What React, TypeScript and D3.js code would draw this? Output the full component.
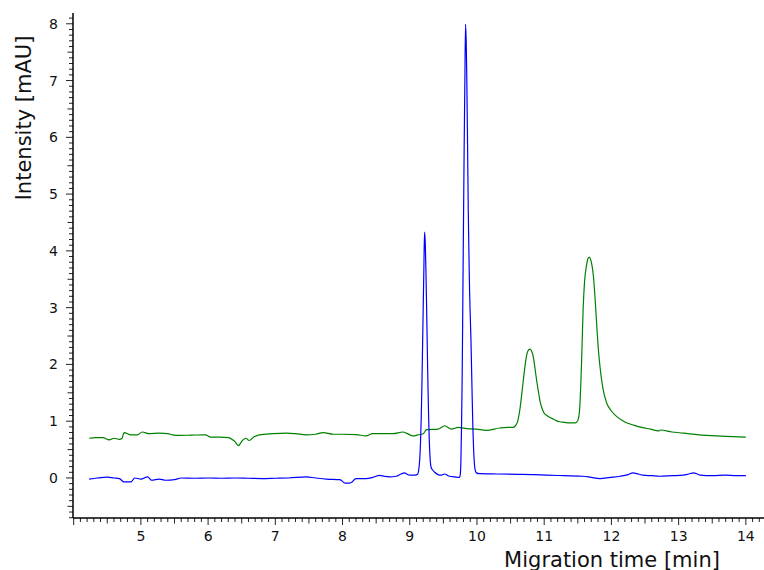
import { useEffect, useRef } from 'react'
import * as d3 from 'd3'

// [migration time (min), intensity (mAU)]
const BLUE: [number, number][] = [
  [4.23, -0.02], [4.35, 0.0], [4.50, 0.015], [4.60, 0.0], [4.68, -0.01], [4.75, -0.07],
  [4.85, -0.07], [4.91, 0.0], [5.0, -0.02], [5.10, 0.02], [5.16, -0.04], [5.27, -0.02],
  [5.37, -0.04], [5.50, -0.03], [5.60, 0.0], [5.80, -0.005], [6.0, 0.0], [6.2, -0.005],
  [6.4, 0.0], [6.6, -0.005], [6.8, -0.01], [7.0, -0.005], [7.2, 0.0], [7.46, 0.02],
  [7.6, 0.0], [7.76, -0.02], [7.96, -0.03], [8.04, -0.09], [8.10, -0.09], [8.13, -0.08],
  [8.20, -0.01], [8.35, -0.01], [8.45, 0.01], [8.55, 0.045], [8.62, 0.03], [8.70, 0.02],
  [8.80, 0.03], [8.87, 0.07], [8.92, 0.09], [8.97, 0.06], [9.0, 0.05], [9.08, 0.05],
  [9.12, 0.07], [9.13, 0.12], [9.14, 0.21], [9.15, 0.36], [9.16, 0.63], [9.17, 1.03],
  [9.18, 1.59], [9.19, 2.28], [9.20, 3.0], [9.21, 3.69], [9.22, 4.33], [9.23, 4.16],
  [9.24, 3.69], [9.25, 3.05], [9.26, 2.35], [9.27, 1.68], [9.28, 1.1], [9.29, 0.68],
  [9.30, 0.4], [9.31, 0.24], [9.32, 0.18], [9.34, 0.14], [9.37, 0.10], [9.42, 0.06],
  [9.47, 0.05], [9.52, 0.07], [9.59, 0.03], [9.66, 0.02], [9.74, 0.01], [9.75, 0.05],
  [9.76, 0.25], [9.77, 0.9], [9.78, 1.8], [9.79, 3.2], [9.80, 4.6], [9.81, 5.9],
  [9.82, 7.0], [9.83, 7.99], [9.84, 7.66], [9.85, 6.91], [9.86, 5.85], [9.87, 4.75],
  [9.88, 3.95], [9.89, 3.3], [9.90, 2.85], [9.91, 2.45], [9.92, 1.9], [9.93, 1.35],
  [9.94, 0.85], [9.95, 0.5], [9.96, 0.28], [9.97, 0.16], [9.99, 0.09], [10.04, 0.075],
  [10.3, 0.07], [10.6, 0.065], [10.85, 0.06], [11.04, 0.05], [11.3, 0.04], [11.58, 0.03],
  [11.70, 0.01], [11.83, -0.01], [11.98, 0.01], [12.13, 0.03], [12.25, 0.06], [12.32, 0.09],
  [12.40, 0.07], [12.47, 0.05], [12.6, 0.04], [12.72, 0.03], [12.9, 0.04], [13.07, 0.05],
  [13.15, 0.07], [13.22, 0.09], [13.28, 0.07], [13.32, 0.05], [13.5, 0.04], [13.7, 0.05],
  [13.85, 0.04], [14.0, 0.04],
]

const GREEN: [number, number][] = [
  [4.23, 0.70], [4.33, 0.71], [4.43, 0.71], [4.53, 0.67], [4.60, 0.70], [4.68, 0.68],
  [4.72, 0.70], [4.75, 0.80], [4.85, 0.76], [4.95, 0.76], [5.02, 0.81], [5.12, 0.78],
  [5.27, 0.79], [5.40, 0.78], [5.47, 0.76], [5.57, 0.75], [5.75, 0.755], [5.96, 0.76],
  [6.04, 0.72], [6.18, 0.72], [6.30, 0.71], [6.37, 0.67], [6.40, 0.64], [6.45, 0.57],
  [6.51, 0.66], [6.56, 0.70], [6.61, 0.66], [6.68, 0.72], [6.76, 0.76], [6.96, 0.78],
  [7.16, 0.79], [7.30, 0.78], [7.46, 0.76], [7.60, 0.77], [7.71, 0.80], [7.86, 0.77],
  [8.0, 0.77], [8.2, 0.765], [8.35, 0.74], [8.45, 0.78], [8.6, 0.78], [8.75, 0.78],
  [8.9, 0.81], [8.95, 0.79], [9.05, 0.74], [9.12, 0.76], [9.20, 0.78], [9.25, 0.85],
  [9.42, 0.86], [9.52, 0.92], [9.62, 0.86], [9.72, 0.89], [9.85, 0.87], [9.99, 0.86],
  [10.14, 0.84], [10.34, 0.88], [10.45, 0.89], [10.53, 0.89], [10.58, 0.93], [10.61, 1.02],
  [10.64, 1.22], [10.67, 1.52], [10.69, 1.73], [10.72, 2.02], [10.74, 2.17], [10.77, 2.26],
  [10.79, 2.27], [10.81, 2.24], [10.84, 2.12], [10.87, 1.87], [10.89, 1.70], [10.92, 1.48],
  [10.94, 1.34], [10.97, 1.22], [11.0, 1.14], [11.04, 1.10], [11.08, 1.07], [11.13, 1.04],
  [11.18, 1.01], [11.23, 0.99], [11.30, 0.98], [11.38, 0.97], [11.44, 0.97], [11.48, 0.98],
  [11.51, 1.05], [11.53, 1.26], [11.555, 2.0], [11.58, 3.0], [11.60, 3.45], [11.63, 3.75],
  [11.65, 3.86], [11.67, 3.89], [11.69, 3.85], [11.71, 3.75], [11.73, 3.58], [11.755, 3.2],
  [11.78, 2.72], [11.80, 2.35], [11.83, 1.96], [11.87, 1.6], [11.93, 1.32], [12.0, 1.18],
  [12.08, 1.08], [12.18, 1.0], [12.33, 0.93], [12.45, 0.89], [12.58, 0.86], [12.70, 0.83],
  [12.73, 0.845], [12.9, 0.81], [13.07, 0.79], [13.3, 0.76], [13.57, 0.74], [13.8, 0.73],
  [14.0, 0.72],
]

const X_DOMAIN: [number, number] = [3.99, 14.27]
const Y_DOMAIN: [number, number] = [-0.705, 8.19]
const X_LABELS = [5, 6, 7, 8, 9, 10, 11, 12, 13, 14]
const Y_LABELS = [0, 1, 2, 3, 4, 5, 6, 7, 8]

const FONT = '"DejaVu Sans", Verdana, sans-serif'

export default function App() {
  const svgRef = useRef<SVGSVGElement>(null)

  useEffect(() => {
    if (!svgRef.current) return
    const svg = d3.select(svgRef.current)
    svg.selectAll('*').remove()

    const x = d3.scaleLinear().domain(X_DOMAIN).range([73, 764])
    const y = d3.scaleLinear().domain(Y_DOMAIN).range([518, 13])

    const g = svg.append('g')

    // minor / medium / major ticks on x
    const xTicks = d3.range(Math.ceil(X_DOMAIN[0] * 10), Math.floor(X_DOMAIN[1] * 10) + 1).map(i => i / 10)
    g.append('g')
      .selectAll('line')
      .data(xTicks)
      .enter().append('line')
      .attr('x1', d => x(d)).attr('x2', d => x(d))
      .attr('y1', y(Y_DOMAIN[0]))
      .attr('y2', d => {
        const k = Math.round(d * 10)
        return y(Y_DOMAIN[0]) + (k % 10 === 0 ? 7 : k % 5 === 0 ? 5.5 : 4)
      })
      .attr('stroke', '#222').attr('stroke-width', 1)

    const yTicks = d3.range(Math.ceil(Y_DOMAIN[0] * 10), Math.floor(Y_DOMAIN[1] * 10) + 1).map(i => i / 10)
    g.append('g')
      .selectAll('line')
      .data(yTicks)
      .enter().append('line')
      .attr('y1', d => y(d)).attr('y2', d => y(d))
      .attr('x1', x(X_DOMAIN[0]))
      .attr('x2', d => {
        const k = Math.round(d * 10)
        return x(X_DOMAIN[0]) - (k % 10 === 0 ? 7 : k % 5 === 0 ? 5.5 : 4)
      })
      .attr('stroke', '#222').attr('stroke-width', 1)

    // axis lines
    g.append('line')
      .attr('x1', x(X_DOMAIN[0])).attr('x2', x(X_DOMAIN[1]))
      .attr('y1', y(Y_DOMAIN[0])).attr('y2', y(Y_DOMAIN[0]))
      .attr('stroke', '#000').attr('stroke-width', 1.5)
    g.append('line')
      .attr('x1', x(X_DOMAIN[0])).attr('x2', x(X_DOMAIN[0]))
      .attr('y1', y(Y_DOMAIN[0])).attr('y2', y(Y_DOMAIN[1]))
      .attr('stroke', '#000').attr('stroke-width', 1.5)

    // tick labels
    g.append('g')
      .selectAll('text')
      .data(X_LABELS)
      .enter().append('text')
      .attr('x', d => x(d)).attr('y', 541)
      .attr('text-anchor', 'middle')
      .attr('font-family', FONT).attr('font-size', '14px').attr('fill', '#111')
      .text(d => d)

    g.append('g')
      .selectAll('text')
      .data(Y_LABELS)
      .enter().append('text')
      .attr('x', 58).attr('y', d => y(d) + 5)
      .attr('text-anchor', 'end')
      .attr('font-family', FONT).attr('font-size', '14px').attr('fill', '#111')
      .text(d => d)

    // axis titles
    g.append('text')
      .attr('transform', 'translate(31,118) rotate(-90)')
      .attr('text-anchor', 'middle')
      .attr('font-family', FONT).attr('font-size', '21px').attr('fill', '#111')
      .text('Intensity [mAU]')

    g.append('text')
      .attr('x', 612).attr('y', 567)
      .attr('text-anchor', 'middle')
      .attr('font-family', FONT).attr('font-size', '21px').attr('fill', '#111')
      .text('Migration time [min]')

    // traces
    const line = d3.line<[number, number]>()
      .x(d => x(d[0]))
      .y(d => y(d[1]))
      .curve(d3.curveMonotoneX)

    g.append('path')
      .datum(GREEN)
      .attr('d', line)
      .attr('fill', 'none')
      .attr('stroke', '#008000').attr('stroke-width', 1.2)

    g.append('path')
      .datum(BLUE)
      .attr('d', line)
      .attr('fill', 'none')
      .attr('stroke', '#0000ff').attr('stroke-width', 1.2)
  }, [])

  return (
    <svg
      ref={svgRef}
      width={764}
      height={570}
      style={{ position: 'absolute', left: 0, top: 0, display: 'block', background: '#fff' }}
    />
  )
}
